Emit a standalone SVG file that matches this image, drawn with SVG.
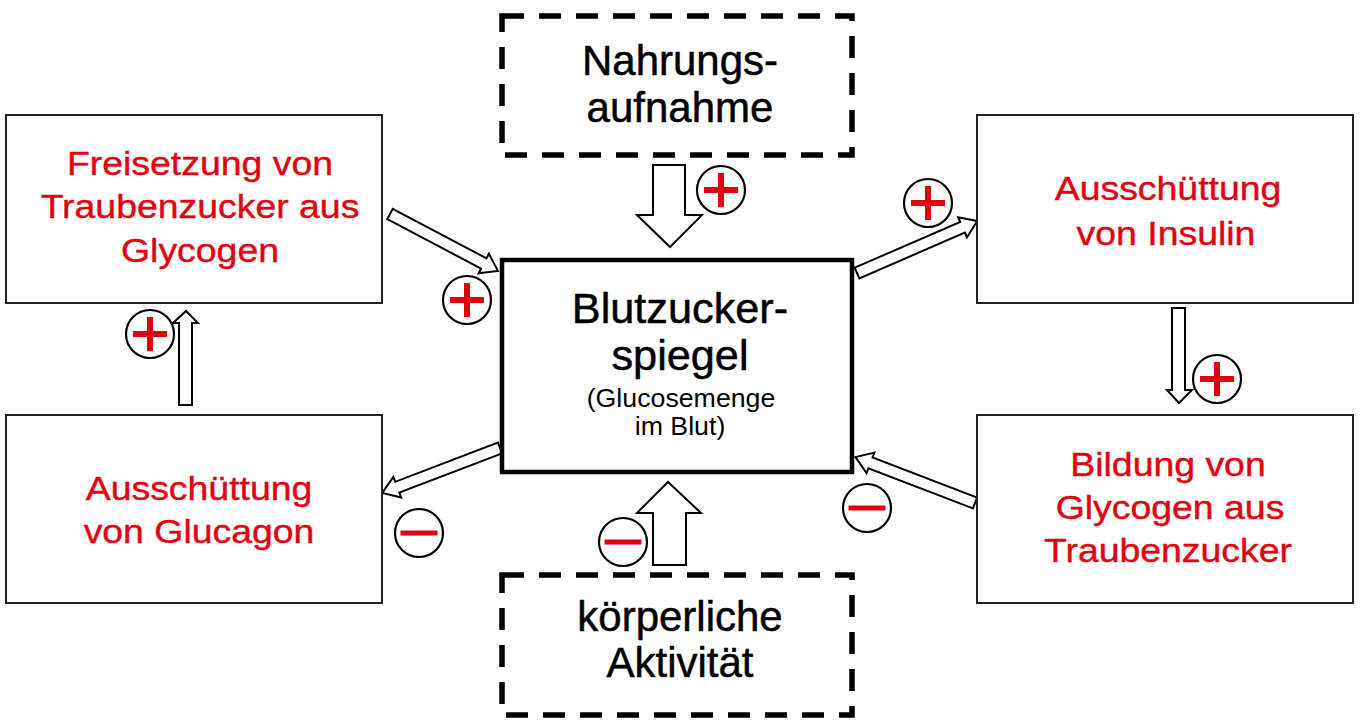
<svg xmlns="http://www.w3.org/2000/svg" xmlns:xlink="http://www.w3.org/1999/xlink" width="1362" height="722" viewBox="0 0 1362 722">
<style>
.box{fill:#fff;stroke:#222;stroke-width:2}
.main{fill:#fff;stroke:#000;stroke-width:4.5}
.dash{fill:none;stroke:#000;stroke-width:5.5;stroke-dasharray:22 15}
.red{font-family:"Liberation Sans",Arial,sans-serif;font-size:34px;fill:#e3000f;stroke:#e3000f;stroke-width:0.4;text-anchor:middle}
.blk{font-family:"Liberation Sans",Arial,sans-serif;font-size:42px;fill:#000;stroke:#000;stroke-width:0.5;text-anchor:middle}
.sm{font-family:"Liberation Sans",Arial,sans-serif;font-size:25px;fill:#000;text-anchor:middle}
.arr{fill:#fff;stroke:#000;stroke-width:2;stroke-linejoin:miter}
.sign{fill:#fff;stroke:#000;stroke-width:2.2}
</style>
<defs>
<g id="plus"><circle class="sign" cx="0" cy="0" r="24"/><rect x="-17" y="-3" width="34" height="6" fill="#e3000f"/><rect x="-3" y="-17" width="6" height="34" fill="#e3000f"/></g>
<g id="minus"><circle class="sign" cx="0" cy="0" r="24"/><rect x="-18.5" y="-2.5" width="37" height="5" fill="#e3000f"/></g>
</defs>
<rect width="1362" height="722" fill="#fff"/>

<g id="connectors">
<path class="arr" transform="translate(390,214) rotate(27.8)" d="M0,-5.8 H106 V-11 L122,0 L106,11 V5.8 H0 Z"/>
<path class="arr" transform="translate(857,273) rotate(-23.4)" d="M0,-5.8 H115 V-11 L131,0 L115,11 V5.8 H0 Z"/>
<path class="arr" transform="translate(975,503) rotate(201)" d="M0,-5.8 H112 V-11 L128,0 L112,11 V5.8 H0 Z"/>
<path class="arr" transform="translate(500,448) rotate(159.1)" d="M0,-5.8 H110 V-11 L126,0 L110,11 V5.8 H0 Z"/>
<polygon class="arr" points="653,165 685,165 685,215 702,215 670,247 637,215 653,215"/>
<polygon class="arr" points="653,565 686,565 686,513 701,513 668,482 637,513 653,513"/>
<polygon class="arr" points="1172,308 1185,308 1185,390 1192,390 1179,403 1167,390 1172,390"/>
<polygon class="arr" points="179,405 192,405 192,323 198,323 186,311 173,323 179,323"/>
<use xlink:href="#plus" x="721" y="190"/>
<use xlink:href="#plus" x="467" y="300"/>
<use xlink:href="#plus" x="928" y="203"/>
<use xlink:href="#plus" x="1217" y="379"/>
<use xlink:href="#plus" x="150" y="334"/>
<use xlink:href="#minus" x="419" y="533"/>
<use xlink:href="#minus" x="623" y="542"/>
<use xlink:href="#minus" x="867" y="508"/>
</g>

<g id="nahrung">
<rect class="dash" x="502" y="16" width="350" height="139"/>
<text class="blk" x="680" y="75">Nahrungs-</text>
<text class="blk" x="680" y="122">aufnahme</text>
</g>

<g id="aktivitaet">
<rect class="dash" x="502" y="575" width="350" height="140"/>
<text class="blk" x="680" y="631">körperliche</text>
<text class="blk" x="680" y="677">Aktivität</text>
</g>

<g id="blutzucker">
<rect class="main" x="502" y="260" width="350" height="212"/>
<text class="blk" transform="translate(680,323) scale(1.03,1)" font-size="41">Blutzucker-</text>
<text class="blk" transform="translate(680,370) scale(1.03,1)" font-size="41">spiegel</text>
<text class="sm" transform="translate(681,407) scale(1.07,1)">(Glucosemenge</text>
<text class="sm" transform="translate(680,435) scale(1.07,1)">im Blut)</text>
</g>

<g id="freisetzung">
<rect class="box" x="6" y="115" width="376" height="188"/>
<text class="red" transform="translate(200,175) scale(1.1,1)">Freisetzung von</text>
<text class="red" transform="translate(200,218) scale(1.1,1)">Traubenzucker aus</text>
<text class="red" transform="translate(200,262) scale(1.1,1)">Glycogen</text>
</g>

<g id="glucagon">
<rect class="box" x="6" y="415" width="376" height="188"/>
<text class="red" transform="translate(199,500) scale(1.1,1)">Ausschüttung</text>
<text class="red" transform="translate(199,543) scale(1.1,1)">von Glucagon</text>
</g>

<g id="insulin">
<rect class="box" x="977" y="115" width="376" height="188"/>
<text class="red" transform="translate(1168,200) scale(1.1,1)">Ausschüttung</text>
<text class="red" transform="translate(1166,245) scale(1.1,1)">von Insulin</text>
</g>

<g id="bildung">
<rect class="box" x="977" y="415" width="376" height="188"/>
<text class="red" transform="translate(1168,476) scale(1.1,1)">Bildung von</text>
<text class="red" transform="translate(1170,519) scale(1.1,1)">Glycogen aus</text>
<text class="red" transform="translate(1168,562) scale(1.1,1)">Traubenzucker</text>
</g>
</svg>
